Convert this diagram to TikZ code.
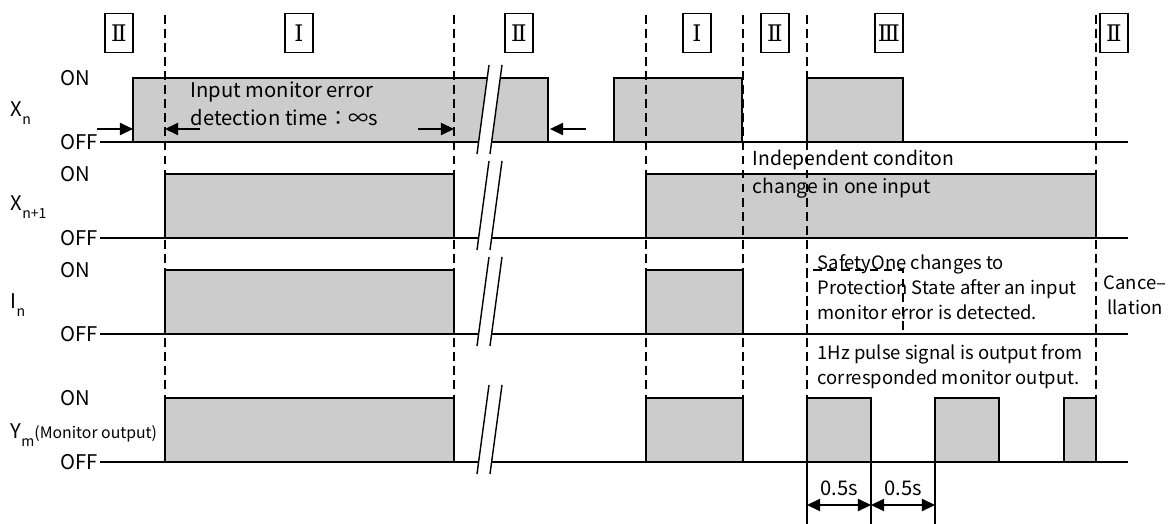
\documentclass[tikz,border=0pt]{standalone}
\usepackage{fontspec}
\setmainfont{Noto Sans CJK JP}
\newfontfamily\numeralfont{DejaVu Serif}
\usetikzlibrary{arrows.meta}

\begin{document}
\begin{tikzpicture}[x=0.02cm, y=-0.02cm, line width=0.8pt,
	every node/.style={font=\fontsize{11.5}{14}\selectfont, inner sep=0pt},
	>={Triangle[length=7.5pt, width=7pt]},
	pulse/.style={draw, fill=black!20},
	guide/.style={line width=0.7pt, dash pattern=on 5pt off 3pt},
	phase/.style={draw, line width=0.6pt, minimum width=0.56cm, minimum height=0.78cm, font=\numeralfont\fontsize{13}{13}\selectfont},
	note/.style={anchor=west, align=left, font=\fontsize{11}{14.2}\selectfont}]
	\useasboundingbox (0,0) rectangle (1171,524);

	\foreach \x/\t/\n in {119/Ⅱ/a, 299/Ⅰ/b, 519/Ⅱ/c, 697/Ⅰ/d, 775/Ⅱ/e, 889/Ⅲ/f, 1114/Ⅱ/g}
		\node[phase] (phase\n) at (\x,33) {\t};

	\foreach \on/\n in {78/1, 174/2, 270/3, 398/4} {
		\node[anchor=west] (on\n) at (60,\on) {ON};
		\node[anchor=west] (off\n) at (60,\on+64) {OFF};
		\draw (100,\on+64) -- (1128,\on+64);
	}
	\node[anchor=west] (xn) at (10,113) {X\raisebox{-0.8ex}{\fontsize{8}{8}\selectfont n}};
	\node[anchor=west] (xnn) at (10,207) {X\raisebox{-0.8ex}{\fontsize{8}{8}\selectfont n+1}};
	\node[anchor=west] (in) at (10,305) {I\raisebox{-0.8ex}{\fontsize{8}{8}\selectfont n}};
	\node[anchor=west] (ym) at (10,435) {Y\raisebox{-0.8ex}{\fontsize{8}{8}\selectfont m}{\fontsize{9}{9}\selectfont(Monitor output)}};

	\foreach \a/\b/\on in {133/548/78, 614/742/78, 807/903/78,
			165/454/174, 646/1096/174,
			165/454/270, 646/743/270,
			165/454/398, 646/743/398, 807/871/398, 935/999/398, 1064/1096/398}
		\draw[pulse] (\a,\on+64) rectangle (\b,\on);
	\draw[guide] (807,334) -- (807,270) -- (903,270) -- (903,334);

	\foreach \on in {78, 174, 270, 398} {
		\fill[white] (477,\on+76) -- (489,\on-13) -- (502,\on-13) -- (490,\on+76) -- cycle;
		\draw (477,\on+76) -- (489,\on-13);
		\draw (490,\on+76) -- (502,\on-13);
	}

	\foreach \x in {165, 454, 646, 743, 807, 1096}
		\draw[guide] (\x,15) -- (\x,398);

	\draw[->] (97,129) -- (133,129);
	\draw[->] (200,129) -- (165,129);
	\draw[->] (418,129) -- (454,129);
	\draw[->] (586,129) -- (550,129);

	\foreach \x in {807, 871, 935}
		\draw (\x,462) -- (\x,524);
	\draw[<->] (807,505) -- (871,505) node[midway, above=5pt] (tp1) {0.5s};
	\draw[<->] (871,505) -- (935,505) node[midway, above=5pt] (tp2) {0.5s};

	\node[note, font=\fontsize{11.5}{16}\selectfont] (detect) at (190,104) {Input monitor error\\detection time：∞s};
	\node[note, font=\fontsize{11}{16}\selectfont] (indep) at (752,174) {Independent conditon\\change in one input};
	\node[note, font=\fontsize{10.5}{14.2}\selectfont] (safety) at (817,287) {SafetyOne changes to\\Protection State after an input\\monitor error is detected.};
	\node[note, font=\fontsize{10.5}{14.2}\selectfont] (pulse1hz) at (817,367) {1Hz pulse signal is output from\\corresponded monitor output.};
	\node[align=center, font=\fontsize{10.5}{14.2}\selectfont] (cancel) at (1135,295) {Cance–\\llation};
\end{tikzpicture}
\end{document}
